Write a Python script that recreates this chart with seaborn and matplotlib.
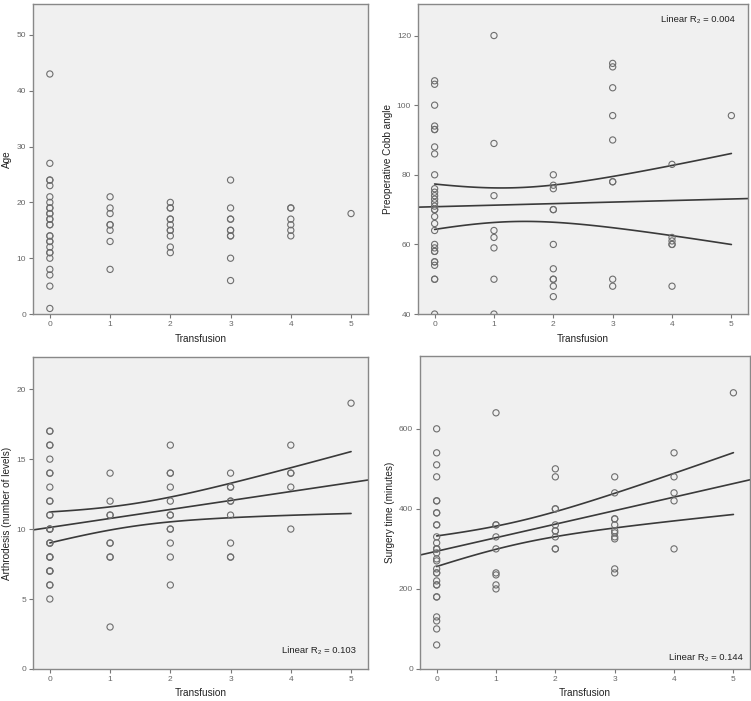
import numpy as np
import pandas as pd
import matplotlib
matplotlib.use("Agg")
import matplotlib.pyplot as plt
import seaborn as sns

# transfusion levels (x axis) and the values read at each level
transfusion_levels = [0, 1, 2, 3, 4, 5]

age_groups = [
    [43, 27, 24, 24, 23, 21, 20, 19, 19, 18, 18, 17, 17, 16, 16, 14, 14, 13, 13, 12, 11, 11, 10, 8, 7, 5, 1],
    [21, 19, 18, 16, 16, 15, 13, 8],
    [20, 19, 19, 17, 17, 16, 15, 15, 14, 12, 11],
    [24, 19, 17, 17, 15, 15, 14, 14, 10, 6],
    [19, 19, 17, 16, 15, 14],
    [18],
]

cobb_groups = [
    [107, 106, 100, 94, 93, 93, 88, 86, 80, 76, 75, 74, 73, 72, 71, 70, 70, 68, 66, 64,
     60, 59, 58, 58, 55, 55, 54, 50, 50, 40],
    [120, 89, 74, 64, 62, 59, 50, 40],
    [80, 77, 76, 70, 70, 60, 53, 50, 50, 48, 45],
    [112, 111, 105, 97, 90, 78, 78, 50, 48],
    [83, 62, 61, 60, 60, 48],
    [97],
]

arthrodesis_groups = [
    [17, 17, 16, 16, 15, 14, 14, 13, 12, 12, 11, 11, 10, 10, 10, 9, 9, 9, 8, 8, 8, 7, 7, 7, 6, 6, 5],
    [14, 12, 11, 11, 9, 9, 8, 8, 3],
    [16, 14, 14, 13, 12, 11, 11, 10, 10, 9, 8, 6],
    [14, 13, 13, 12, 12, 11, 9, 8, 8],
    [16, 14, 14, 13, 10],
    [19],
]

surgery_groups = [
    [600, 540, 510, 480, 420, 420, 390, 390, 360, 360, 330, 315, 300, 300, 300, 290, 275,
     270, 250, 240, 240, 220, 210, 210, 180, 180, 130, 120, 100, 60],
    [640, 360, 360, 330, 300, 240, 235, 210, 200],
    [500, 480, 400, 400, 360, 345, 345, 330, 300, 300],
    [480, 440, 375, 375, 360, 345, 340, 330, 325, 250, 240],
    [540, 480, 440, 420, 300],
    [690],
]

r2_labels = [None, "Linear R\u2082 = 0.004", "Linear R\u2082 = 0.103", "Linear R\u2082 = 0.144"]


def to_frame(groups):
    rows = [(t, v) for t, vals in zip(transfusion_levels, groups) for v in vals]
    return pd.DataFrame(rows, columns=["Transfusion", "value"])


def mean_ci(df, xs, t=1.995):
    """Linear fit 95% CI of the mean (what SPSS draws)."""
    x = df["Transfusion"].to_numpy(float)
    y = df["value"].to_numpy(float)
    b, a = np.polyfit(x, y, 1)
    resid = y - (a + b * x)
    n = len(x)
    s = np.sqrt((resid ** 2).sum() / (n - 2))
    sxx = ((x - x.mean()) ** 2).sum()
    se = s * np.sqrt(1 / n + (xs - x.mean()) ** 2 / sxx)
    yhat = a + b * xs
    return yhat - t * se, yhat + t * se


sns.set_style("ticks")
plt.rcParams["font.family"] = ["Liberation Sans", "DejaVu Sans"]

fig = plt.figure(figsize=(7.51, 7.01), dpi=100)
fig.patch.set_facecolor("white")

panels = [
    (age_groups, "Age", (0, 55.5), [0, 10, 20, 30, 40, 50], [0.0439, 0.552, 0.446, 0.442], False),
    (cobb_groups, "Preoperative Cobb angle", (40, 129), [40, 60, 80, 100, 120], [0.5566, 0.552, 0.4394, 0.442], True),
    (arthrodesis_groups, "Arthrodesis (number of levels)", (0, 22.3), [0, 5, 10, 15, 20], [0.0439, 0.0457, 0.446, 0.445], True),
    (surgery_groups, "Surgery time (minutes)", (0, 782), [0, 200, 400, 600], [0.5593, 0.0457, 0.4394, 0.4465], True),
]
label_pos = [None, (0.96, 0.965, "top"), (0.964, 0.058, "center"), (0.979, 0.038, "center")]

for i, (groups, ylabel, ylim, yticks, rect, fit) in enumerate(panels):
    ax = fig.add_axes(rect)
    ax.set_facecolor("#f0f0f0")
    df = to_frame(groups)
    ax.set_xlim(-0.28, 5.28)
    ax.set_ylim(*ylim)

    sns.scatterplot(data=df, x="Transfusion", y="value", ax=ax, marker="o",
                    facecolor="none", edgecolor="#6e6e6e", linewidth=0.8, s=20, zorder=3)

    if fit:
        sns.regplot(data=df, x="Transfusion", y="value", ax=ax, scatter=False, ci=None,
                    truncate=False, line_kws={"color": "#3a3a3a", "lw": 1.2})
        xs = np.linspace(0, 5, 100)
        lo, hi = mean_ci(df, xs)
        ax.plot(xs, lo, color="#3a3a3a", lw=1.2)
        ax.plot(xs, hi, color="#3a3a3a", lw=1.2)
        tx, ty, va = label_pos[i]
        ax.text(tx, ty, r2_labels[i], transform=ax.transAxes, ha="right", va=va,
                fontsize=6.8, color="#222222")

    ax.set_xlim(-0.28, 5.28)
    ax.set_ylim(*ylim)
    ax.set_xticks(transfusion_levels)
    ax.set_yticks(yticks)
    ax.tick_params(labelsize=6, colors="#777777", length=3, width=0.8,
                   labelcolor="#666666", pad=2)
    ax.set_xlabel("Transfusion", fontsize=7.2, color="#222222", labelpad=4)
    ax.set_ylabel(ylabel, fontsize=7.2, color="#222222", labelpad=3)
    for sp in ax.spines.values():
        sp.set_visible(True)
        sp.set_color("#888888")
        sp.set_linewidth(1.0)

fig.savefig("out.png", dpi=100, facecolor="white")
